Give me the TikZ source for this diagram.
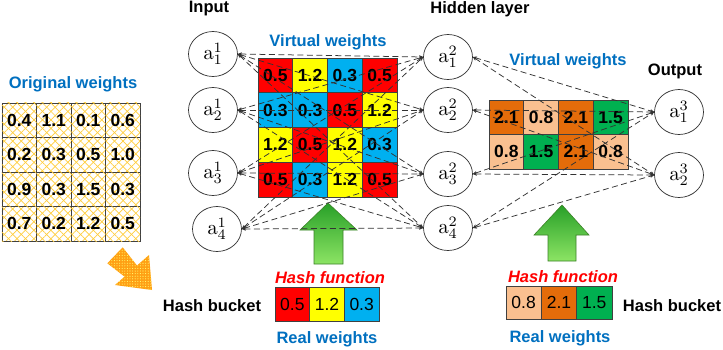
\documentclass[tikz,border=0pt]{standalone}
\usepackage{graphicx}
\usepackage[no-math]{fontspec}
\setmainfont{Liberation Sans}
\usetikzlibrary{arrows.meta,shapes.geometric,patterns.meta}
\definecolor{tblue}{RGB}{0,112,192}
\definecolor{cred}{RGB}{255,0,0}
\definecolor{cyel}{RGB}{255,255,0}
\definecolor{cblu}{RGB}{0,176,240}
\definecolor{corg}{RGB}{228,108,10}
\definecolor{cpch}{RGB}{250,192,144}
\definecolor{cgrn}{RGB}{0,176,80}
\definecolor{gridc}{RGB}{64,64,64}
\definecolor{hatch}{RGB}{255,205,60}
\definecolor{arrorange}{RGB}{255,160,20}
\definecolor{gtop}{RGB}{40,160,40}
\definecolor{gbot}{RGB}{140,228,100}
\definecolor{gline}{RGB}{60,130,40}
\newcommand{\nlab}[2]{\scalebox{2.05}{$\mathrm{a}^{#1}_{#2}$}}
\begin{document}
\begin{tikzpicture}[x=1pt,y=-1pt,
 big/.style={font=\fontsize{16.5}{19}\selectfont\bfseries, inner sep=0pt},
 ttl/.style={big, text=tblue},
 hashtxt/.style={inner sep=0pt, text=cred, font=\fontsize{16.5}{19}\selectfont\bfseries\itshape},
 cell/.style={draw=gridc, line width=0.8pt, minimum width=34.7pt, minimum height=34.7pt, inner sep=0pt, font=\fontsize{17.5}{19}\selectfont\bfseries},
 bcell/.style={cell, font=\fontsize{17.5}{19}\selectfont},
 hcell/.style={cell, pattern={Lines[angle=45,distance=6pt,line width=0.7pt]}, pattern color=hatch,
   postaction={pattern={Lines[angle=-45,distance=6pt,line width=0.7pt]}, pattern color=hatch}},
 neuron/.style={ellipse, draw=black!80, line width=0.7pt, minimum width=49pt, minimum height=45pt, inner sep=0pt},
 edge/.style={draw=black!80, line width=0.75pt, dash pattern=on 6pt off 3.5pt, {Stealth[length=4pt,width=3.5pt]}-{Stealth[length=4pt,width=3.5pt]}},
 garrow/.style={top color=gtop, bottom color=gbot, draw=gline, line width=0.6pt}
]
\useasboundingbox (0,0) rectangle (723,349);
\fill[white] (0,0) rectangle (723,349);

% titles
\node[ttl] (torig) at (73,84) {Original weights};
\node[big] (tin) at (209,9) {Input};
\node[big] (thid) at (480,9) {Hidden layer};
\node[ttl] (tvw1) at (328,42) {Virtual weights};
\node[ttl] (tvw2) at (568,61) {Virtual weights};
\node[big] (tout) at (675,71) {Output};

% original weights grid
\foreach [count=\i] \v in {0.4,1.1,0.1,0.6} \node[hcell] (w1\i) at ({2+34.5*(\i-0.5)},{103+34.5*0.5}) {\v};
\foreach [count=\i] \v in {0.2,0.3,0.5,1.0} \node[hcell] (w2\i) at ({2+34.5*(\i-0.5)},{103+34.5*1.5}) {\v};
\foreach [count=\i] \v in {0.9,0.3,1.5,0.3} \node[hcell] (w3\i) at ({2+34.5*(\i-0.5)},{103+34.5*2.5}) {\v};
\foreach [count=\i] \v in {0.7,0.2,1.2,0.5} \node[hcell] (w4\i) at ({2+34.5*(\i-0.5)},{103+34.5*3.5}) {\v};

% orange arrow
\path[fill=arrorange, postaction={pattern={Dots[distance=2.6pt,radius=0.55pt]}, pattern color=yellow!55}]
  (122.7,247.3) -- (137,265.5) -- (149,255) -- (152,290) -- (115,285) -- (124.5,276.6) -- (107.3,263.3) -- cycle;

% middle virtual weights
\foreach [count=\i] \c/\v in {cred/0.5,cyel/1.2,cblu/0.3,cred/0.5} \node[cell,fill=\c] (m1\i) at ({258+34.75*(\i-0.5)},{58+34.75*0.5}) {\v};
\foreach [count=\i] \c/\v in {cblu/0.3,cblu/0.3,cred/0.5,cyel/1.2} \node[cell,fill=\c] (m2\i) at ({258+34.75*(\i-0.5)},{58+34.75*1.5}) {\v};
\foreach [count=\i] \c/\v in {cyel/1.2,cred/0.5,cyel/1.2,cblu/0.3} \node[cell,fill=\c] (m3\i) at ({258+34.75*(\i-0.5)},{58+34.75*2.5}) {\v};
\foreach [count=\i] \c/\v in {cred/0.5,cblu/0.3,cyel/1.2,cred/0.5} \node[cell,fill=\c] (m4\i) at ({258+34.75*(\i-0.5)},{58+34.75*3.5}) {\v};

% right virtual weights
\foreach [count=\i] \c/\v in {corg/2.1,cpch/0.8,corg/2.1,cgrn/1.5} \node[cell,fill=\c,minimum height=34.5pt] (r1\i) at ({489+34.75*(\i-0.5)},{100+34.5*0.5}) {\v};
\foreach [count=\i] \c/\v in {cpch/0.8,cgrn/1.5,corg/2.1,cpch/0.8} \node[cell,fill=\c,minimum height=34.5pt] (r2\i) at ({489+34.75*(\i-0.5)},{100+34.5*1.5}) {\v};

% neurons
\node[neuron] (i1) at (213,54) {\nlab{1}{1}};
\node[neuron] (i2) at (213,110) {\nlab{1}{2}};
\node[neuron] (i3) at (213,173) {\nlab{1}{3}};
\node[neuron] (i4) at (217,229) {\nlab{1}{4}};
\node[neuron] (h1) at (448,57) {\nlab{2}{1}};
\node[neuron] (h2) at (448,110) {\nlab{2}{2}};
\node[neuron] (h3) at (448,174) {\nlab{2}{3}};
\node[neuron] (h4) at (448,228) {\nlab{2}{4}};
\node[neuron] (o1) at (679,112) {\nlab{3}{1}};
\node[neuron] (o2) at (679,175) {\nlab{3}{2}};

% green arrows
\path[garrow] (328,203) -- (357,230) -- (343,230) -- (343,264) -- (314,264) -- (314,230) -- (300,230) -- cycle;
\path[garrow] (562,205) -- (589,235) -- (576,235) -- (576,261) -- (548,261) -- (548,235) -- (534,235) -- cycle;

% connectors
\foreach \i in {1,...,4} \foreach \j in {1,...,4} \draw[edge] (i\i.east) -- (h\j.west);
\foreach \j in {1,...,4} \foreach \k in {1,2} \draw[edge] (h\j.east) -- (o\k.west);

% hash function parts
\node[hashtxt] (hf1) at (330,278) {Hash function};
\node[hashtxt] (hf2) at (563,277) {Hash function};
\foreach [count=\i] \c/\v in {cred/0.5,cyel/1.2,cblu/0.3} \node[bcell,fill=\c,minimum height=34pt] (b1\i) at ({275+34.67*(\i-0.5)},304) {\v};
\foreach [count=\i] \c/\v in {cpch/0.8,corg/2.1,cgrn/1.5} \node[bcell,fill=\c,minimum height=33pt,minimum width=35.3pt] (b2\i) at ({506+35.3*(\i-0.5)},302.5) {\v};
\node[big] (hb1) at (212,306) {Hash bucket};
\node[big] (hb2) at (672,306) {Hash bucket};
\node[ttl] (rw1) at (327,339) {Real weights};
\node[ttl] (rw2) at (560,338) {Real weights};
\end{tikzpicture}
\end{document}
